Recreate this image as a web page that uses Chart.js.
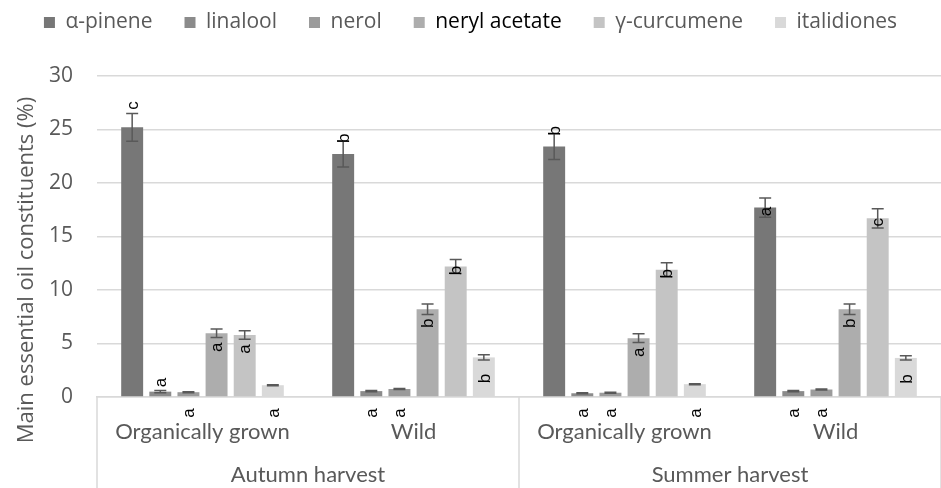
<!DOCTYPE html>
<html>
<head>
<meta charset="utf-8">
<script src="https://cdn.jsdelivr.net/npm/chart.js@4.4.1/dist/chart.umd.min.js"></script>
<style>
  body { margin: 0; background: #fff; }
</style>
</head>
<body>
<canvas id="chart" width="941" height="488"></canvas>
<script>
const conditions = ['Organically grown', 'Wild', 'Organically grown', 'Wild']
const harvests = ['Autumn harvest', 'Summer harvest']
const compounds = ['α-pinene', 'linalool', 'nerol', 'neryl acetate', 'γ-curcumene', 'italidiones']
const yTicks = [0, 5, 10, 15, 20, 25, 30]

// mean values (%) per compound, in the order of conditions
const alphaPinene = [25.2, 22.7, 23.4, 17.7]
const linalool = [0.5, 0.55, 0.35, 0.55]
const nerol = [0.45, 0.75, 0.4, 0.7]
const nerylAcetate = [5.95, 8.2, 5.5, 8.2]
const curcumene = [5.8, 12.2, 11.9, 16.7]
const italidiones = [1.1, 3.7, 1.2, 3.65]

// standard deviations
const alphaPineneErr = [1.3, 1.2, 1.2, 0.9]
const linaloolErr = [0.1, 0.05, 0.05, 0.05]
const nerolErr = [0.05, 0.05, 0.05, 0.05]
const nerylAcetateErr = [0.4, 0.5, 0.4, 0.5]
const curcumeneErr = [0.4, 0.65, 0.65, 0.9]
const italidionesErr = [0.05, 0.25, 0.05, 0.2]

// significance letters
const alphaPineneSig = ['c', 'b', 'b', 'a']
const linaloolSig = ['a', 'a', 'a', 'a']
const nerolSig = ['a', 'a', 'a', 'a']
const nerylAcetateSig = ['a', 'b', 'a', 'b']
const curcumeneSig = ['a', 'b', 'b', 'c']
const italidionesSig = ['a', 'b', 'a', 'b']

const values = [alphaPinene, linalool, nerol, nerylAcetate, curcumene, italidiones]
const errors = [alphaPineneErr, linaloolErr, nerolErr, nerylAcetateErr, curcumeneErr, italidionesErr]
const letters = [alphaPineneSig, linaloolSig, nerolSig, nerylAcetateSig, curcumeneSig, italidionesSig]

// where each letter sits (label placement, not data)
const letterPlace = [
    ['above', 'cap', 'cap', 'end'],
    ['above', 'under', 'under', 'under'],
    ['under', 'under', 'under', 'under'],
    ['in', 'in', 'in', 'in'],
    ['in', 'end', 'end', 'end'],
    ['under', 'low', 'under', 'low']
]

const colors = ['#777777', '#8b8b8b', '#9b9b9b', '#adadad', '#c4c4c4', '#d9d9d9']
const gridColor = '#d9d9d9'
const textColor = '#595959'

const errorBars = {
    id: 'errorBars',
    beforeInit(chart) {
        const fit = chart.legend.fit
        chart.legend.fit = function () {
            fit.call(this)
            this.height += 33
        }
    },
    afterDatasetsDraw(chart) {
        const ctx = chart.ctx
        const y = chart.scales.y
        const zero = y.getPixelForValue(0)
        ctx.save()
        chart.data.datasets.forEach((ds, i) => {
            const meta = chart.getDatasetMeta(i)
            meta.data.forEach((bar, j) => {
                const v = values[i][j]
                const e = errors[i][j]
                const top = y.getPixelForValue(v + e)
                const bot = y.getPixelForValue(v - e)
                const cap = 6
                ctx.strokeStyle = '#595959'
                ctx.lineWidth = 1.5
                ctx.beginPath()
                ctx.moveTo(bar.x, top)
                ctx.lineTo(bar.x, bot)
                ctx.moveTo(bar.x - cap, top)
                ctx.lineTo(bar.x + cap, top)
                ctx.moveTo(bar.x - cap, bot)
                ctx.lineTo(bar.x + cap, bot)
                ctx.stroke()

                let ly
                const place = letterPlace[i][j]
                if (place === 'above') ly = top - 8
                else if (place === 'cap') ly = top - 3
                else if (place === 'end') ly = bar.y + 4
                else if (place === 'in') ly = bar.y + 14
                else if (place === 'low') ly = bar.y + 21
                else ly = zero + 16
                ctx.save()
                ctx.translate(bar.x + 1, ly)
                ctx.rotate(-Math.PI / 2)
                ctx.fillStyle = '#000'
                ctx.font = '17px "Liberation Sans"'
                ctx.textAlign = 'center'
                ctx.textBaseline = 'middle'
                ctx.fillText(letters[i][j], 0, 0)
                ctx.restore()
            })
        })
        ctx.restore()
    },
    afterDraw(chart) {
        const ctx = chart.ctx
        const x = chart.scales.x
        const area = chart.chartArea
        ctx.save()
        // harvest separators
        ctx.strokeStyle = gridColor
        ctx.lineWidth = 1.5
        const mid = (x.getPixelForTick(1) + x.getPixelForTick(2)) / 2
        ;[area.left, mid, area.right].forEach(px => {
            ctx.beginPath()
            ctx.moveTo(px, area.bottom)
            ctx.lineTo(px, chart.height)
            ctx.stroke()
        })
        // harvest labels
        ctx.fillStyle = textColor
        ctx.font = '22px Lato'
        ctx.textAlign = 'center'
        ctx.textBaseline = 'middle'
        harvests.forEach((h, k) => {
            const cx = (x.getPixelForTick(k * 2) + x.getPixelForTick(k * 2 + 1)) / 2
            ctx.fillText(h, cx, 475)
        })
        // y axis title
        ctx.translate(27, 270)
        ctx.rotate(-Math.PI / 2)
        ctx.font = '22px "Open Sans"'
        ctx.fillText('Main essential oil constituents (%)', 0, 0)
        ctx.restore()
    }
}

const chart = new Chart('chart', {
    type: 'bar',
    data: {
        labels: conditions,
        datasets: compounds.map((name, i) => ({
            label: name,
            data: values[i],
            backgroundColor: colors[i],
            categoryPercentage: 0.8,
            barPercentage: 0.78
        }))
    },
    options: {
        responsive: false,
        animation: false,
        layout: { padding: { top: -20, left: 0, right: 0, bottom: 0 } },
        plugins: {
            legend: {
                position: 'top',
                labels: {
                    boxWidth: 11,
                    boxHeight: 11,
                    padding: 32,
                    color: textColor,
                    font: { family: 'Open Sans', size: 21 },
                    generateLabels(chart) {
                        const items = Chart.defaults.plugins.legend.labels.generateLabels(chart)
                        items.forEach(it => {
                            it.lineWidth = 0
                            if (it.text === 'neryl acetate') it.fontColor = '#000'
                        })
                        return items
                    }
                }
            },
            tooltip: { enabled: false }
        },
        scales: {
            x: {
                grid: { display: false },
                border: { display: true, color: gridColor, width: 1.5 },
                ticks: {
                    color: textColor,
                    font: { family: 'Lato', size: 22 },
                    padding: 14,
                    maxRotation: 0,
                    autoSkip: false
                },
                afterFit(scale) { scale.height = 91 }
            },
            y: {
                min: 0,
                max: 30,
                afterBuildTicks(scale) {
                    scale.ticks = yTicks.map(v => ({ value: v }))
                },
                grid: { color: gridColor, lineWidth: 1.5, drawTicks: false },
                border: { display: false },
                ticks: {
                    color: textColor,
                    font: { family: 'Open Sans', size: 21 },
                    padding: 24
                },
                afterFit(scale) { scale.width = 97 }
            }
        }
    },
    plugins: [errorBars]
})
</script>
</body>
</html>
